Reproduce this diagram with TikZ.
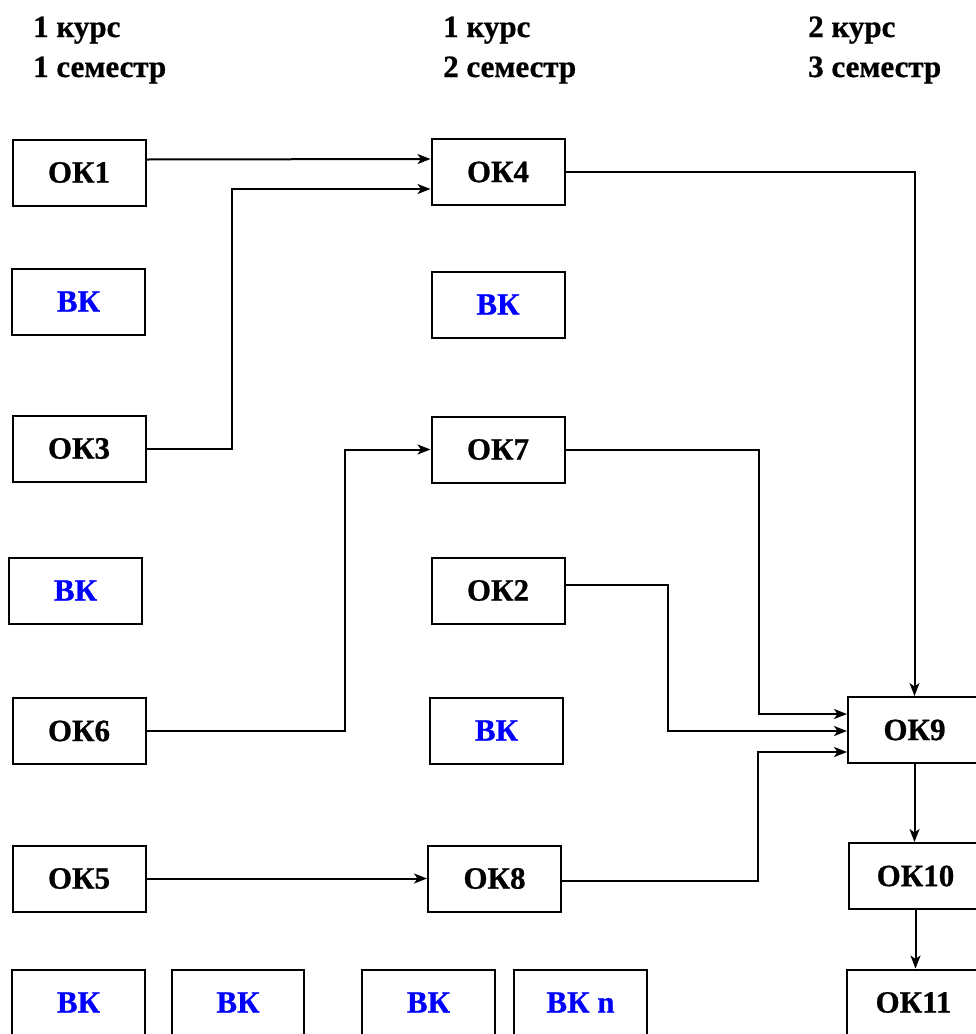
\documentclass[tikz,border=0pt]{standalone}
\usepackage{fontspec}
\setmainfont{Liberation Serif}[BoldFeatures={FakeBold=0.8}]
\usetikzlibrary{arrows.meta}
\definecolor{vkblue}{RGB}{0,0,255}
\tikzset{
  box/.style={draw=black, line width=2pt, minimum width=133pt, minimum height=66pt, inner sep=0pt,
    font=\bfseries\fontsize{31}{36}\selectfont},
  vk/.style={box, text=vkblue},
  hdr/.style={anchor=base west, inner sep=0pt, font=\bfseries\fontsize{31}{36}\selectfont},
  arr/.style={line width=2pt, -{Stealth[length=13pt,width=10pt,inset=3.5pt]}}
}
\begin{document}
\begin{tikzpicture}[x=1pt,y=-1pt]
\useasboundingbox (0,0) rectangle (976,1034);
% headers
\node[hdr] (h1a) at (33,37) {1 курс};
\node[hdr] (h1b) at (33,77) {1 семестр};
\node[hdr] (h2a) at (443,37) {1 курс};
\node[hdr] (h2b) at (443,77) {2 семестр};
\node[hdr] (h3a) at (808,37) {2 курс};
\node[hdr] (h3b) at (808,77) {3 семестр};
% column 1
\node[box] (ok1) at (79,172.5) {ОК1};
\node[vk]  (vk1) at (78.5,301.5) {ВК};
\node[box] (ok3) at (79,448.5) {ОК3};
\node[vk]  (vk2) at (75.5,590.5) {ВК};
\node[box] (ok6) at (79,731) {ОК6};
\node[box] (ok5) at (79,878.5) {ОК5};
% bottom row
\node[vk] (vkb1) at (78.5,1002.5) {ВК};
\node[vk, minimum width=132pt] (vkb2) at (238,1002.5) {ВК};
\node[vk] (vkb3) at (428.5,1002.5) {ВК};
\node[vk] (vkb4) at (580.5,1002.5) {ВК n};
% column 2
\node[box] (ok4) at (498,172) {ОК4};
\node[vk]  (vk3) at (498,304.5) {ВК};
\node[box] (ok7) at (498,449.5) {ОК7};
\node[box] (ok2) at (498,590.5) {ОК2};
\node[vk]  (vk4) at (496.5,730.5) {ВК};
\node[box] (ok8) at (494.5,878.5) {ОК8};
% column 3
\node[box] (ok9)  at (914.5,730) {ОК9};
\node[box] (ok10) at (915.5,876) {ОК10};
\node[box] (ok11) at (913.5,1002.5) {ОК11};
% connectors
\draw[arr] ([yshift=13pt]ok1.east) -- ([yshift=13pt]ok4.west);
\draw[arr] (ok3.east) -- ++(85,0) |- ([yshift=-17pt]ok4.west);
\draw[arr] (ok4.east) -| (ok9.north);
\draw[arr] (ok6.east) -- ++(198,0) |- (ok7.west);
\draw[arr] (ok7.east) -- ++(193,0) |- ([yshift=16pt]ok9.west);
\draw[arr] ([yshift=6pt]ok2.east) -- ++(102,0) |- ([yshift=-1pt]ok9.west);
\draw[arr] (ok5.east) -- (ok8.west);
\draw[arr] ([yshift=-2.5pt]ok8.east) -- ++(196,0) |- ([yshift=-22pt]ok9.west);
\draw[arr] (ok9.south) -- (ok9.south|-ok10.north);
\draw[arr] (ok10.south) -- (ok10.south|-ok11.north);
\end{tikzpicture}
\end{document}
